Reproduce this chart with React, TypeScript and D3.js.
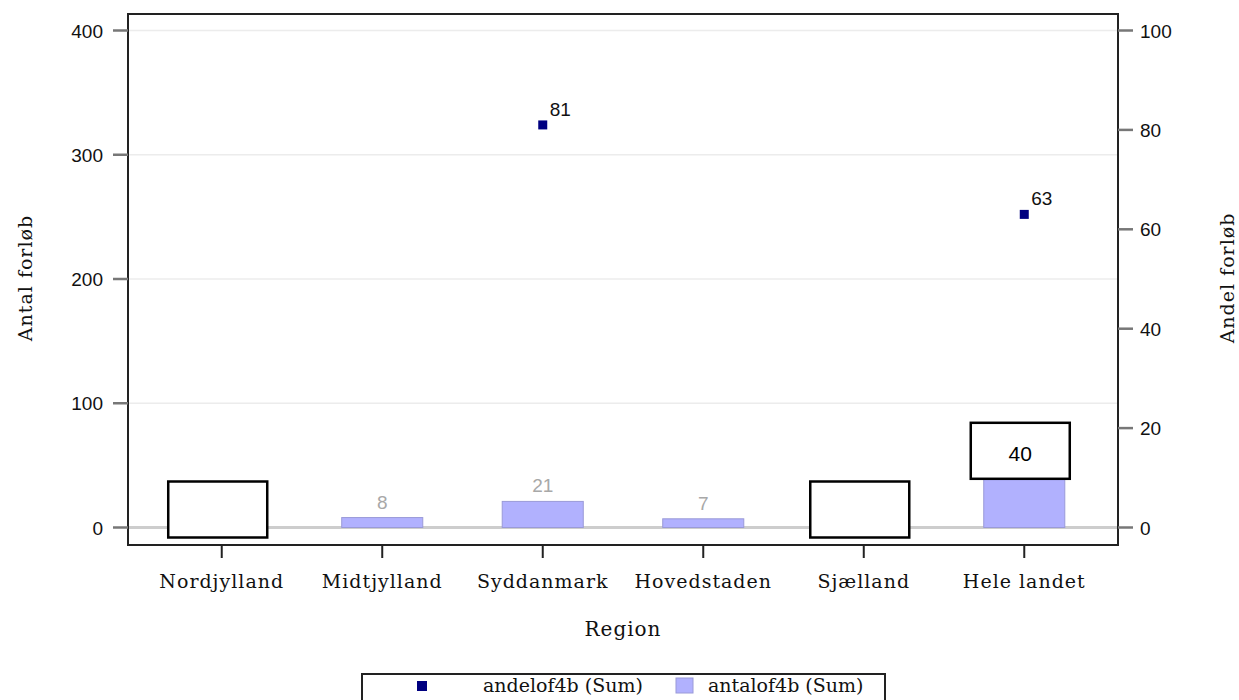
import React from "react";
import * as d3 from "d3";

const regions = ["Nordjylland", "Midtjylland", "Syddanmark", "Hovedstaden", "Sjælland", "Hele landet"];
// antalof4b (Sum) — counts; null where the value is masked in the original
const antalValues: (number | null)[] = [null, 8, 21, 7, null, 40];
// andelof4b (Sum) — shares in percent
const andelValues: (number | null)[] = [null, null, 81, null, null, 63];
const leftTicks = [0, 100, 200, 300, 400];
const rightTicks = [0, 20, 40, 60, 80, 100];
// regions covered by a blank redaction box in the original, and the one whose label is boxed
const maskedRegions = ["Nordjylland", "Sjælland"];
const boxedLabels = [{ region: "Hele landet", text: "40" }];

const W = 1239;
const H = 700;
const plot = { left: 128, right: 1118, top: 14, bottom: 545 };

const SERIF = "'DejaVu Serif', serif";
const SANS = "'Liberation Sans', Arial, sans-serif";
const BAR_FILL = "#b1b1fe";
const BAR_STROKE = "#9a9ad8";
const NAVY = "#000080";

export default function App() {
  const x = d3.scalePoint<string>().domain(regions).range([plot.left, plot.right]).padding(0.584);
  const step = x.step();
  const barW = step * 0.505;
  const yL = d3.scaleLinear().domain([0, 400]).range([527.5, 30.5]);
  const yR = d3.scaleLinear().domain([0, 100]).range([527.5, 30.5]);
  const boxedSet = new Set(boxedLabels.map((b) => b.region));

  return (
    <svg width={W} height={H} style={{ position: "absolute", left: 0, top: 0, background: "#fff" }}>
      <rect x={0} y={0} width={W} height={H} fill="#fff" />
      {/* gridlines */}
      {leftTicks.filter((t) => t > 0).map((t) => (
        <line key={"g" + t} x1={plot.left} x2={plot.right} y1={yL(t)} y2={yL(t)} stroke="#ececec" strokeWidth={1.5} />
      ))}
      <line x1={plot.left} x2={plot.right} y1={yL(0)} y2={yL(0)} stroke="#cdcdcd" strokeWidth={3} />

      {/* bars */}
      {regions.map((r, i) => {
        const v = antalValues[i];
        if (v == null) return null;
        const cx = x(r)!;
        return (
          <g key={"b" + r}>
            <rect x={cx - barW / 2} y={yL(v)} width={barW} height={yL(0) - yL(v)} fill={BAR_FILL} stroke={BAR_STROKE} strokeWidth={1} />
            {!boxedSet.has(r) && (
              <text x={cx} y={yL(v) - 9} textAnchor="middle" fontFamily={SANS} fontSize={19} fill="#a8a8a8">
                {v}
              </text>
            )}
          </g>
        );
      })}

      {/* points */}
      {regions.map((r, i) => {
        const v = andelValues[i];
        if (v == null) return null;
        const cx = x(r)!;
        const cy = yR(v);
        return (
          <g key={"p" + r}>
            <rect x={cx - 4.5} y={cy - 4.5} width={9} height={9} fill={NAVY} />
            <text x={cx + 7} y={cy - 9} fontFamily={SANS} fontSize={19} fill="#111">
              {v}
            </text>
          </g>
        );
      })}

      {/* redaction boxes */}
      {maskedRegions.map((r) => {
        const cx = x(r)! - 4;
        return (
          <rect key={"m" + r} x={cx - 49.5} y={yL(0) - 46} width={99} height={56} fill="#fff" stroke="#000" strokeWidth={2.5} />
        );
      })}
      {boxedLabels.map((b) => {
        const i = regions.indexOf(b.region);
        const v = antalValues[i] ?? 0;
        const cx = x(b.region)! - 4;
        return (
          <g key={"bl" + b.region}>
            <rect x={cx - 49.5} y={yL(v) - 55} width={99} height={56} fill="#fff" stroke="#000" strokeWidth={2.5} />
            <text x={cx} y={yL(v) - 17} textAnchor="middle" fontFamily={SANS} fontSize={21} fill="#000">
              {b.text}
            </text>
          </g>
        );
      })}

      {/* frame */}
      <rect x={plot.left} y={plot.top} width={plot.right - plot.left} height={plot.bottom - plot.top} fill="none" stroke="#222" strokeWidth={2} />

      {/* left axis */}
      {leftTicks.map((t) => (
        <g key={"lt" + t}>
          <line x1={plot.left - 15} x2={plot.left} y1={yL(t)} y2={yL(t)} stroke="#777" strokeWidth={2.5} />
          <text x={plot.left - 25} y={yL(t) + 7} textAnchor="end" fontFamily={SANS} fontSize={19} fill="#111">
            {t}
          </text>
        </g>
      ))}
      {/* right axis */}
      {rightTicks.map((t) => (
        <g key={"rt" + t}>
          <line x1={plot.right} x2={plot.right + 15} y1={yR(t)} y2={yR(t)} stroke="#777" strokeWidth={2.5} />
          <text x={plot.right + 22} y={yR(t) + 7} textAnchor="start" fontFamily={SANS} fontSize={19} fill="#111">
            {t}
          </text>
        </g>
      ))}
      {/* x axis */}
      {regions.map((r) => (
        <g key={"xt" + r}>
          <line x1={x(r)!} x2={x(r)!} y1={plot.bottom} y2={plot.bottom + 13} stroke="#222" strokeWidth={2} />
          <text x={x(r)!} y={588} textAnchor="middle" fontFamily={SERIF} fontSize={19} letterSpacing={1} fill="#111">
            {r}
          </text>
        </g>
      ))}

      {/* axis titles */}
      <text x={623} y={636} textAnchor="middle" fontFamily={SERIF} fontSize={20} letterSpacing={1} fill="#111">
        Region
      </text>
      <text transform="translate(32,278) rotate(-90)" textAnchor="middle" fontFamily={SERIF} fontSize={19} letterSpacing={1} fill="#111">
        Antal forløb
      </text>
      <text transform="translate(1234,278) rotate(-90)" textAnchor="middle" fontFamily={SERIF} fontSize={19} letterSpacing={1} fill="#111">
        Andel forløb
      </text>

      {/* legend */}
      <rect x={362} y={674} width={523} height={40} fill="#fff" stroke="#222" strokeWidth={2} />
      <rect x={417} y={681} width={10} height={10} fill={NAVY} />
      <text x={483} y={692} fontFamily={SERIF} fontSize={19} fill="#111">
        andelof4b (Sum)
      </text>
      <rect x={676} y={678} width={17} height={15} fill={BAR_FILL} stroke={BAR_STROKE} strokeWidth={1} />
      <text x={708} y={692} fontFamily={SERIF} fontSize={19} fill="#111">
        antalof4b (Sum)
      </text>
    </svg>
  );
}
